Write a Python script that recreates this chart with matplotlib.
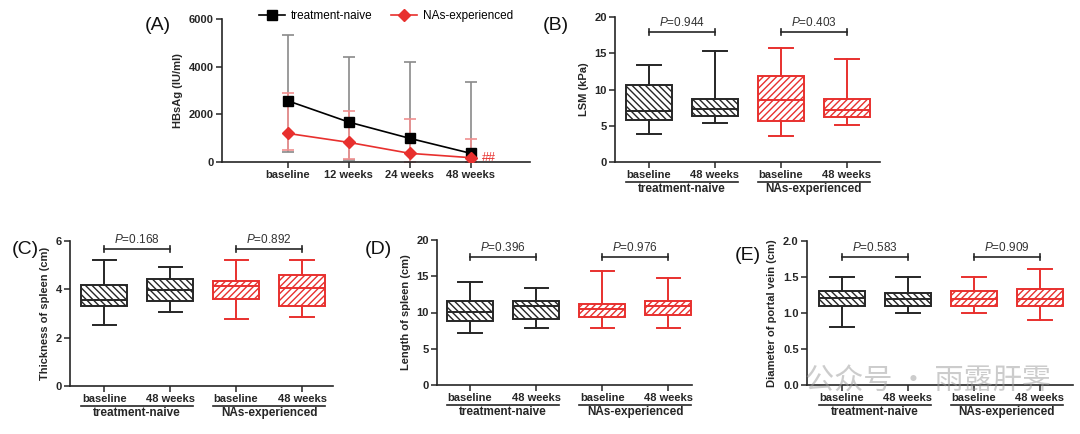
import numpy as np
import matplotlib.pyplot as plt

plt.rcParams['font.family'] = ['Liberation Sans', 'DejaVu Sans']
plt.rcParams['hatch.linewidth'] = 1.0
plt.rcParams['mathtext.fontset'] = 'custom'
plt.rcParams['mathtext.it'] = 'Liberation Sans:italic'
plt.rcParams['mathtext.rm'] = 'Liberation Sans'

W, H = 1080, 434
BLACK = '#262626'
RED = '#e8302e'

# --- panel A data (mean, lower and upper end of error bar) ---
timepoints = ['baseline', '12 weeks', '24 weeks', '48 weeks']
hbsag_naive = [2567, 1674, 991, 363]
hbsag_naive_lo = [405, 100, 0, 0]
hbsag_naive_hi = [5330, 4423, 4200, 3377]
hbsag_exp = [1200, 823, 363, 181]
hbsag_exp_lo = [488, 126, 0, 0]
hbsag_exp_hi = [2916, 2149, 1800, 949]

# --- box panels: whislo, q1, median, q3, whishi ---
box_labels = ['baseline', '48 weeks', 'baseline', '48 weeks']
groups = ['treatment-naive', 'NAs-experienced']

lsm = [[3.91, 5.79, 7.08, 10.67, 13.38],
       [5.38, 6.34, 7.31, 8.69, 15.26],
       [3.63, 5.70, 8.60, 11.86, 15.72],
       [5.10, 6.21, 7.22, 8.69, 14.25]]
lsm_p = ['0.944', '0.403']

spleen_thick = [[2.54, 3.31, 3.55, 4.20, 5.23],
                [3.05, 3.52, 3.97, 4.43, 4.92],
                [2.76, 3.60, 4.15, 4.34, 5.23],
                [2.85, 3.32, 4.04, 4.59, 5.23]]
spleen_thick_p = ['0.168', '0.892']

spleen_len = [[7.22, 8.83, 10.02, 11.54, 14.16],
              [7.91, 9.06, 10.94, 11.63, 13.38],
              [7.91, 9.43, 10.53, 11.22, 15.77],
              [7.91, 9.66, 10.94, 11.54, 14.71]]
spleen_len_p = ['0.396', '0.976']

portal = [[0.81, 1.10, 1.21, 1.30, 1.50],
          [1.00, 1.10, 1.20, 1.28, 1.50],
          [1.00, 1.10, 1.20, 1.30, 1.50],
          [0.90, 1.10, 1.20, 1.33, 1.61]]
portal_p = ['0.583', '0.909']

fig = plt.figure(figsize=(W / 100, H / 100), dpi=100)


def px_axes(l, t, r, b):
    ax = fig.add_axes([l / W, 1 - b / H, (r - l) / W, (b - t) / H])
    for s in ['top', 'right']:
        ax.spines[s].set_visible(False)
    for s in ['left', 'bottom']:
        ax.spines[s].set_linewidth(1.2)
        ax.spines[s].set_color(BLACK)
    ax.tick_params(length=4, width=1.1, color=BLACK, labelsize=8, pad=2)
    return ax


def style_ticks(ax):
    for lab in ax.get_xticklabels() + ax.get_yticklabels():
        lab.set_fontweight('bold')
        lab.set_color(BLACK)


# ---------------- (A) ----------------
axA = px_axes(222, 19, 530, 162)
x = np.arange(len(timepoints))
m = np.array(hbsag_naive)
axA.errorbar(x, m, yerr=[m - np.array(hbsag_naive_lo), np.array(hbsag_naive_hi) - m],
             fmt='none', ecolor='#8a8a8a', elinewidth=1.2, capsize=4, capthick=1.2, zorder=1)
m = np.array(hbsag_exp)
axA.errorbar(x, m, yerr=[m - np.array(hbsag_exp_lo), np.array(hbsag_exp_hi) - m],
             fmt='none', ecolor='#f09090', elinewidth=1.2, capsize=4, capthick=1.2, zorder=1)
axA.plot(x, hbsag_naive, color='black', marker='s', ms=7, lw=1.2, label='treatment-naive', zorder=3)
axA.plot(x, hbsag_exp, color=RED, marker='D', ms=6, lw=1.2, label='NAs-experienced', zorder=3)
axA.text(3.18, 160, '##', color=RED, fontsize=9, va='center', ha='left')
axA.set_xlim(-1.08, 3.97)
axA.set_ylim(0, 6000)
axA.set_yticks([0, 2000, 4000, 6000])
axA.set_xticks(x)
axA.set_xticklabels(timepoints)
axA.set_ylabel('HBsAg (IU/ml)', fontsize=8, fontweight='bold', color=BLACK)
style_ticks(axA)
fig.legend(loc='center', bbox_to_anchor=((262 + 510) / 2 / W, 1 - 16 / H), ncol=2,
           frameon=False, fontsize=8.5, handlelength=2.2, columnspacing=1.6,
           handletextpad=0.5, borderaxespad=0)


# ---------------- box panels ----------------
def box_panel(px, xlim, stats, ylim, yticks, ylabel, pvals, bracket_y, fmt=None):
    l, t, r, b = px
    hpx = b - t
    ax = px_axes(l, t, r, b)
    bx = [dict(whislo=s[0], q1=s[1], med=s[2], q3=s[3], whishi=s[4]) for s in stats]
    art = ax.bxp(bx, positions=range(4), widths=0.7, capwidths=0.35, showfliers=False,
                 patch_artist=True)
    colors = [BLACK, BLACK, RED, RED]
    hatches = ['\\' * 5, '\\' * 5, '/' * 5, '/' * 5]
    for i in range(4):
        art['boxes'][i].set(facecolor='white', edgecolor=colors[i], hatch=hatches[i], linewidth=1.4)
        art['medians'][i].set(color=colors[i], linewidth=1.4)
        for k in (2 * i, 2 * i + 1):
            art['whiskers'][k].set(color=colors[i], linewidth=1.4)
            art['caps'][k].set(color=colors[i], linewidth=1.4)
    ax.set_xlim(*xlim)
    ax.set_ylim(*ylim)
    ax.set_yticks(yticks)
    if fmt:
        ax.set_yticklabels([fmt.format(v) for v in yticks])
    ax.set_xticks(range(4))
    ax.set_xticklabels(box_labels)
    ax.set_ylabel(ylabel, fontsize=8, fontweight='bold', color=BLACK)
    style_ticks(ax)

    unit = (ylim[1] - ylim[0]) / hpx
    for j, p in enumerate(pvals):
        a, c = 2 * j, 2 * j + 1
        ax.plot([a, c], [bracket_y, bracket_y], color=BLACK, lw=1.2, clip_on=False)
        for xx in (a, c):
            ax.plot([xx, xx], [bracket_y - 3 * unit, bracket_y + 3 * unit], color=BLACK, lw=1.2, clip_on=False)
        ax.text((a + c) / 2, bracket_y + 3 * unit, r'$\it{P}$=' + p, ha='center', va='bottom',
                fontsize=8.5, color='#333333')

    trans = ax.get_xaxis_transform()
    for j, g in enumerate(groups):
        cx = 2 * j + 0.5
        ax.plot([cx - 0.85, cx + 0.85], [-20 / hpx] * 2, transform=trans, clip_on=False,
                color=BLACK, lw=1.2)
        ax.text(cx, -27 / hpx, g, transform=trans, ha='center', va='center',
                fontsize=8.5, fontweight='bold', color=BLACK)
    return ax


box_panel((615, 17, 880, 162), (-0.515, 3.5), lsm, (0, 20), [0, 5, 10, 15, 20],
          'LSM (kPa)', lsm_p, 18.0)
box_panel((70, 241, 333, 386), (-0.52, 3.47), spleen_thick, (0, 6), [0, 2, 4, 6],
          'Thickness of spleen (cm)', spleen_thick_p, 5.68)
box_panel((437, 240, 692, 385), (-0.5, 3.36), spleen_len, (0, 20), [0, 5, 10, 15, 20],
          'Length of spleen (cm)', spleen_len_p, 17.6)
box_panel((807, 241, 1073, 385), (-0.53, 3.5), portal, (0, 2), [0, 0.5, 1.0, 1.5, 2.0],
          'Diameter of portal vein (cm)', portal_p, 1.78, fmt='{:.1f}')

# panel letters
for lab, xp, yp in [('(A)', 158, 25), ('(B)', 556, 25), ('(C)', 25, 250),
                    ('(D)', 378, 250), ('(E)', 748, 255)]:
    fig.text(xp / W, 1 - yp / H, lab, ha='center', va='center', fontsize=14, color='#111111')

# watermark
fig.text(805 / W, 1 - 382 / H, '公众号 · 雨露肝霁', fontsize=21, color='#9a9a9a', alpha=0.5,
         ha='left', va='center', family=['Noto Sans CJK SC', 'DejaVu Sans'])

fig.savefig('out.png', dpi=100)
